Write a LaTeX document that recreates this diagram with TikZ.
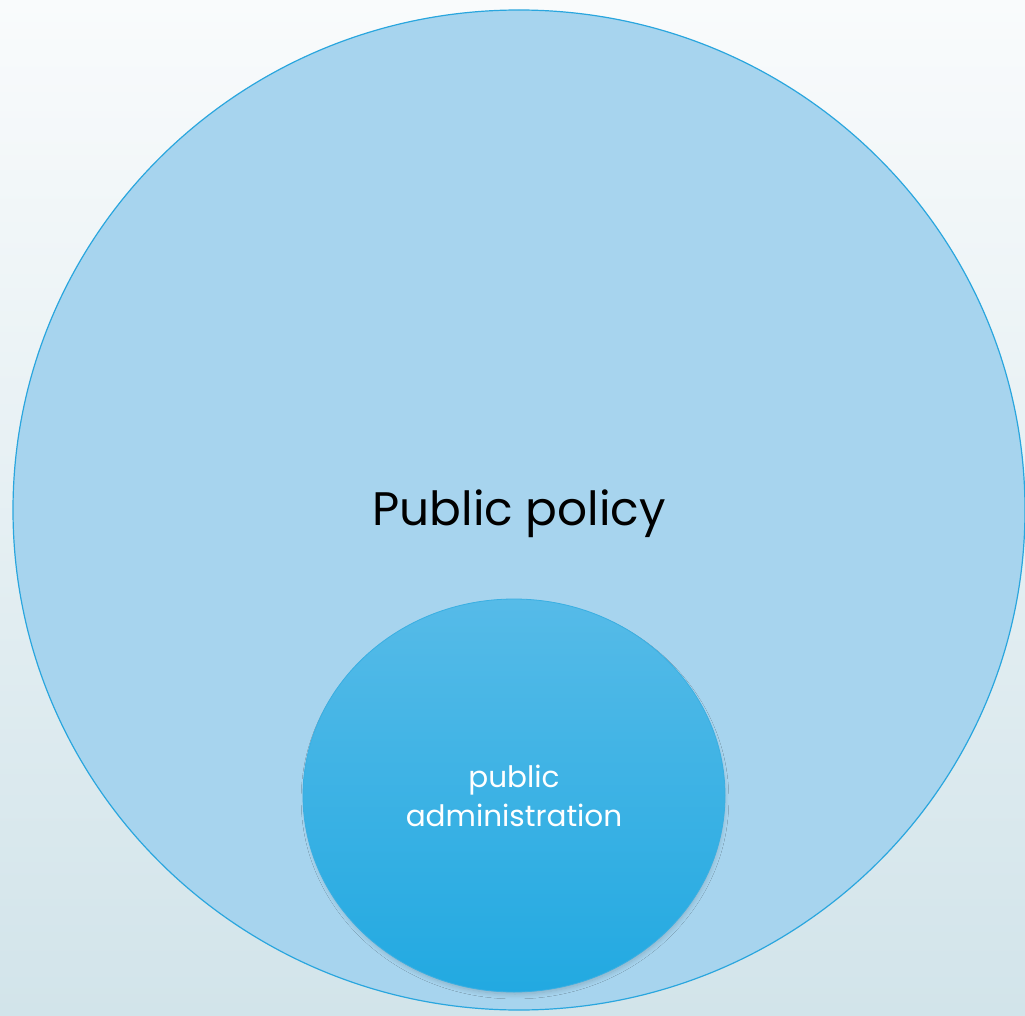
\documentclass[tikz,border=0pt]{standalone}
\usepackage{fontspec}
\setmainfont{Poppins}
\usetikzlibrary{shapes.geometric,shadows.blur}
\definecolor{bgtop}{HTML}{F9FBFC}
\definecolor{bgbot}{HTML}{D2E4EA}
\definecolor{bigfill}{HTML}{A7D4EE}
\definecolor{bigline}{HTML}{2AA6DE}
\definecolor{smtop}{HTML}{56BBE8}
\definecolor{smbot}{HTML}{22A9E1}
\definecolor{smline}{HTML}{3AAFE2}
\tikzset{
  outer/.style={ellipse,draw=bigline,line width=1.2pt,fill=bigfill,inner sep=0pt,minimum width=1012pt,minimum height=1000pt},
  inner/.style={ellipse,draw=smline,line width=0.8pt,top color=smtop,bottom color=smbot,inner sep=0pt,minimum width=422pt,minimum height=393pt,
    blur shadow={shadow xshift=1pt,shadow yshift=-4pt,shadow blur radius=5pt,shadow blur steps=8,shadow scale=0.99,shadow opacity=18}},
  bigtext/.style={font=\fontsize{47}{52}\selectfont,text=black,inner sep=0pt},
  smalltext/.style={font=\fontsize{29.5}{39}\selectfont,text=white,align=center}
}
\begin{document}
\begin{tikzpicture}[x=1pt,y=-1pt]
\shade[top color=bgtop,bottom color=bgbot] (0,0) rectangle (1025,1016);
\useasboundingbox (0,0) rectangle (1025,1016);
\node[outer] (pp) at (519,510) {};
\node[bigtext,anchor=base] (pptext) at (519,525) {Public policy};
\node[inner] (pa) at (514,795.5) {};
\node[smalltext] (patext) at (514,796) {public\\administration};
\end{tikzpicture}
\end{document}
